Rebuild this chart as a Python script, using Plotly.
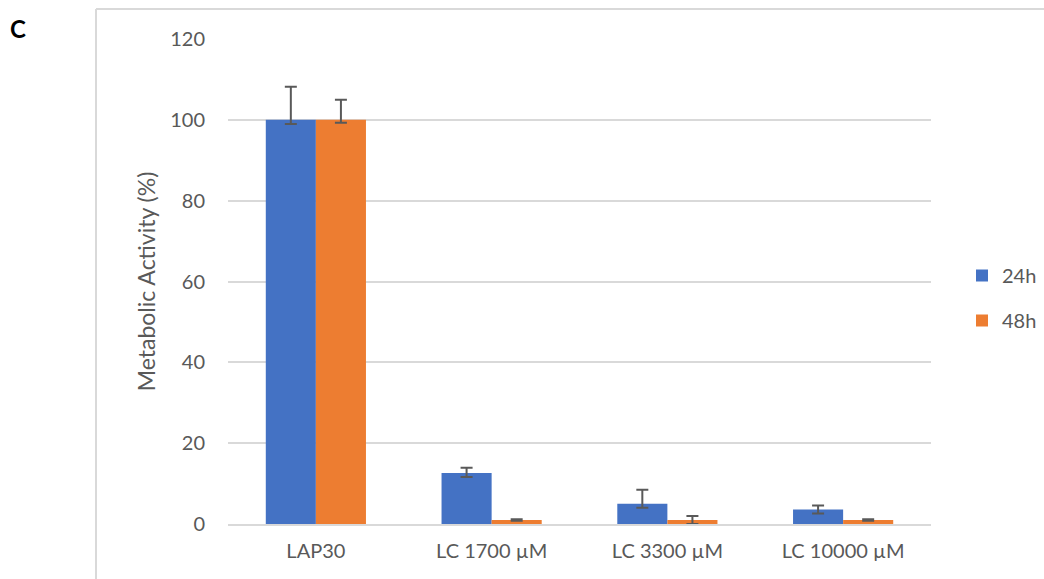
import plotly.graph_objects as go

# Metabolic activity per treatment, 24h vs 48h
categories = ["LAP30", "LC 1700 µM", "LC 3300 µM", "LC 10000 µM"]
act_24h = [100, 12.6, 5.0, 3.6]
act_48h = [100, 1.0, 1.0, 1.0]
err_24h_plus = [8.2, 1.3, 3.5, 1.0]
err_24h_minus = [1.0, 1.0, 1.0, 1.0]
err_48h_plus = [5.0, 0.2, 1.0, 0.2]
err_48h_minus = [0.7, 0.2, 1.0, 0.2]

y_ticks = [0, 20, 40, 60, 80, 100, 120]

FONT = "Lato, 'Open Sans', sans-serif"
TEXT = "#595959"
GRID = "#d9d9d9"
ERR = "#595959"

W, H = 1044, 579
L, R, T, B = 228, 931, 39, 524

fig = go.Figure()
fig.add_trace(go.Bar(
    name="24h", x=categories, y=act_24h, marker_color="#4472c4",
    marker_line=dict(width=0),
    error_y=dict(type="data", symmetric=False, array=err_24h_plus,
                 arrayminus=err_24h_minus, color=ERR, thickness=2, width=6),
    legendgroup="a",
))
fig.add_trace(go.Bar(
    name="48h", x=categories, y=act_48h, marker_color="#ed7d31",
    marker_line=dict(width=0),
    error_y=dict(type="data", symmetric=False, array=err_48h_plus,
                 arrayminus=err_48h_minus, color=ERR, thickness=2, width=6),
    legendgroup="b",
))

pw = R - L
ph = B - T


def px_x(p):
    return (p - L) / pw


def px_y(p):
    return (B - p) / ph


fig.update_layout(
    width=W, height=H,
    margin=dict(l=L, r=W - R, t=T, b=H - B, pad=0, autoexpand=False),
    paper_bgcolor="white", plot_bgcolor="white",
    barmode="group", bargap=0.43, bargroupgap=0,
    font=dict(family=FONT, size=20, color=TEXT),
    showlegend=True,
    legend=dict(x=px_x(962), y=px_y(256), xanchor="left", yanchor="top",
                font=dict(size=20, color=TEXT), traceorder="grouped",
                tracegroupgap=16, itemwidth=30, bgcolor="rgba(0,0,0,0)"),
    xaxis=dict(showgrid=False, showline=True, linecolor=GRID, linewidth=2,
               ticks="", tickfont=dict(size=20, color=TEXT), ticklabelstandoff=8),
    yaxis=dict(range=[0, 120], tickvals=y_ticks, showgrid=True, gridcolor=GRID,
               gridwidth=1.5, zeroline=False, showline=False, ticks="",
               tickfont=dict(size=20, color=TEXT), ticklabelstandoff=22,
               title=dict(text="Metabolic Activity (%)", font=dict(size=23, color=TEXT),
                          standoff=8)),
    shapes=[
        dict(type="line", xref="paper", yref="paper", x0=px_x(96), x1=px_x(W + 5),
             y0=px_y(9), y1=px_y(9), line=dict(color=GRID, width=2)),
        dict(type="line", xref="paper", yref="paper", x0=px_x(96), x1=px_x(96),
             y0=px_y(9), y1=px_y(H + 5), line=dict(color=GRID, width=2)),
    ],
    annotations=[
        dict(text="<b>C</b>", xref="paper", yref="paper", x=px_x(8), y=px_y(28),
             xanchor="left", yanchor="middle", showarrow=False,
             font=dict(family=FONT, size=24, color="black")),
    ],
)

fig.write_html("out.html")
